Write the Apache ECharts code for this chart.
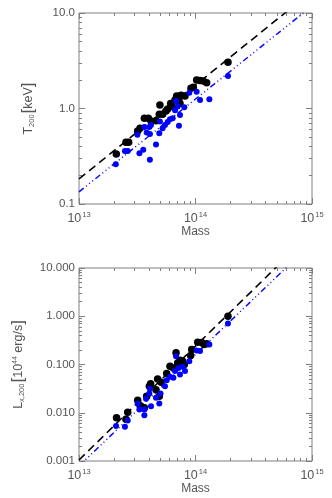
<!DOCTYPE html>
<html><head><meta charset="utf-8">
<script src="https://cdn.jsdelivr.net/npm/echarts@6/dist/echarts.min.js"></script>
<style>html,body{margin:0;padding:0;background:#fff}#c{width:332px;height:498px}</style>
</head><body><div id="c"></div>
<script>
// ---- data ----
const tBlackMass = [2.09e13,2.53e13,2.67e13,3.19e13,3.34e13,3.64e13,3.94e13,4.15e13,4.58e13,4.89e13,4.95e13,5.22e13,5.58e13,5.77e13,6.12e13,6.32e13,6.67e13,6.89e13,7.21e13,7.52e13,8.13e13,7.36e13,9.14e13,9.57e13,1.023e14,1.094e14,1.167e14,1.247e14,1.90e14];
const tBlackT = [0.334,0.442,0.442,0.58,0.62,0.79,0.79,0.74,0.745,0.87,1.09,0.87,0.94,0.99,1.13,1.05,1.23,1.35,1.26,1.38,1.35,1.13,1.63,1.67,1.99,1.96,1.94,1.86,3.05];
const tBlueMass = [2.07e13,2.48e13,2.62e13,3.17e13,3.30e13,3.56e13,3.64e13,3.81e13,4.02e13,4.06e13,4.06e13,4.15e13,4.58e13,4.89e13,4.95e13,5.22e13,5.47e13,5.77e13,6.04e13,6.37e13,6.67e13,6.81e13,7.03e13,7.21e13,7.36e13,8.02e13,8.85e13,1.023e14,1.094e14,1.315e14,1.90e14];
const tBlueT = [0.26,0.359,0.359,0.53,0.34,0.37,0.64,0.56,0.64,0.54,0.29,0.67,0.42,0.55,0.73,0.62,0.67,0.72,0.77,0.79,0.96,1.2,1.05,0.66,0.855,1.03,1.46,1.50,1.23,1.25,2.19];
const lBlackMass = [2.10e13,2.53e13,2.62e13,3.19e13,3.34e13,3.64e13,3.81e13,4.02e13,4.12e13,4.58e13,4.73e13,4.89e13,5.06e13,5.66e13,6.04e13,6.46e13,6.81e13,7.03e13,7.36e13,7.76e13,8.02e13,9.27e13,9.08e13,1.045e14,1.130e14,1.183e14,1.247e14,1.90e14];
const lBlackL = [0.0079,0.0073,0.0103,0.0182,0.0142,0.0127,0.022,0.0356,0.040,0.030,0.050,0.022,0.043,0.065,0.092,0.085,0.175,0.108,0.123,0.117,0.100,0.205,0.153,0.290,0.285,0.26,0.27,1.0];
const lBlueMass = [2.08e13,2.48e13,2.62e13,3.19e13,3.30e13,3.64e13,3.64e13,3.76e13,4.02e13,4.06e13,4.15e13,4.58e13,4.89e13,5.01e13,5.47e13,5.66e13,6.04e13,6.46e13,6.67e13,6.81e13,7.13e13,7.36e13,7.76e13,8.13e13,8.85e13,1.023e14,1.094e14,1.315e14,1.90e14];
const lBlueL = [0.0053,0.0051,0.0069,0.0156,0.0117,0.0089,0.0117,0.0195,0.025,0.0314,0.0137,0.0204,0.0156,0.025,0.0356,0.047,0.056,0.053,0.073,0.149,0.085,0.062,0.090,0.073,0.117,0.195,0.19,0.26,0.71];
const fitMass = [1e13, 1e15];
const tFitBlack = [0.183, 16.9];
const tFitBlue = [0.134, 11.8];
const lFitBlack = [0.00105, 55];
const lFitBlue = [0.00079, 33];
const xTickExp = ['13','14','15'];
const tTickLabels = ['0.1','1.0','10.0'];
const lTickLabels = ['0.001','0.010','0.100','1.000','10.000'];
const minorFactors = [2,3,4,5,6,7,8,9];

// ---- helpers ----
const TXT = '#555', AX = '#808080', FONT = 'Liberation Sans';
function minors(lo, hi){ const out=[]; for(let e=lo;e<hi;e++) for(const f of minorFactors) out.push(f*Math.pow(10,e)); return out; }
// tiny inward nudge so the end values survive the axis extent filter
function majors(lo, hi){ const out=[]; for(let e=lo;e<=hi;e++){ let v=Math.pow(10,e); if(e===hi) v*=0.999999; if(e===lo) v*=1.000001; out.push(v);} return out; }
function pairs(a,b){ return a.map((v,i)=>[v,b[i]]); }

function xAxes(g, name, gap){
  const base = {type:'log', logBase:10, min:1e13, max:1e15, gridIndex:g, axisLine:{show:false}, splitLine:{show:false}};
  const maj = majors(13,15), mnr = minors(13,15);
  return [
    Object.assign({}, base, {position:'bottom', name:name, nameLocation:'middle', nameGap:gap,
      nameTextStyle:{color:TXT, fontSize:12, fontFamily:FONT},
      axisTick:{show:true, inside:true, length:6, lineStyle:{color:AX}, customValues:maj},
      axisLabel:{show:true, margin:7, showMinLabel:true, showMaxLabel:true, hideOverlap:false, customValues:maj, color:TXT, fontFamily:FONT,
        formatter:(v)=>{ const i=Math.round(Math.log10(v))-13; return '{m|10}{s|'+xTickExp[i]+'}'; },
        rich:{m:{fontSize:12.5, color:TXT, fontFamily:FONT, verticalAlign:'bottom'}, s:{fontSize:7.5, color:TXT, fontFamily:FONT, verticalAlign:'top', padding:[0,0,6,1]}}}}),
    Object.assign({}, base, {position:'bottom', axisTick:{show:true, inside:true, length:3, lineStyle:{color:AX}, customValues:mnr}, axisLabel:{show:false}}),
    Object.assign({}, base, {position:'top', axisTick:{show:true, inside:true, length:6, lineStyle:{color:AX}, customValues:maj}, axisLabel:{show:false}}),
    Object.assign({}, base, {position:'top', axisTick:{show:true, inside:true, length:3, lineStyle:{color:AX}, customValues:mnr}, axisLabel:{show:false}})
  ];
}
function yAxes(g, lo, hi, labels, name, gap, rich, fs){
  const base = {type:'log', logBase:10, min:Math.pow(10,lo), max:Math.pow(10,hi), gridIndex:g, axisLine:{show:false}, splitLine:{show:false}};
  const maj = majors(lo,hi), mnr = minors(lo,hi);
  return [
    Object.assign({}, base, {position:'left', name:name, nameLocation:'middle', nameGap:gap, nameRotate:90,
      nameTextStyle:{color:TXT, fontFamily:FONT, rich:rich},
      axisTick:{show:true, inside:true, length:6, lineStyle:{color:AX}, customValues:maj},
      axisLabel:{show:true, margin:4, showMinLabel:true, showMaxLabel:true, customValues:maj, color:TXT, fontSize:fs, fontFamily:FONT,
        formatter:(v)=>labels[Math.round(Math.log10(v))-lo]}}),
    Object.assign({}, base, {position:'left', axisTick:{show:true, inside:true, length:3, lineStyle:{color:AX}, customValues:mnr}, axisLabel:{show:false}}),
    Object.assign({}, base, {position:'right', axisTick:{show:true, inside:true, length:6, lineStyle:{color:AX}, customValues:maj}, axisLabel:{show:false}}),
    Object.assign({}, base, {position:'right', axisTick:{show:true, inside:true, length:3, lineStyle:{color:AX}, customValues:mnr}, axisLabel:{show:false}})
  ];
}
const richT = {m:{fontSize:12.5,color:TXT,fontFamily:FONT}, s:{fontSize:7.5,color:TXT,fontFamily:FONT,padding:[6,1,0,0]}, b:{fontSize:17,color:TXT,fontFamily:FONT}};
const richL = {m:{fontSize:12.5,color:TXT,fontFamily:FONT}, s:{fontSize:7.5,color:TXT,fontFamily:FONT,padding:[6,1,0,0]}, p:{fontSize:7,color:TXT,fontFamily:FONT,padding:[0,0,7,0]}, b:{fontSize:17,color:TXT,fontFamily:FONT}};

const chart = echarts.init(document.getElementById('c'), null, {renderer:'canvas'});
const dashBlack = {color:'#000', width:1.6, type:[8,5]};
const dashBlue = {color:'#0a0aff', width:1.5, type:[6,3,1,3,1,3,1,3]};
chart.setOption({
  animation:false,
  backgroundColor:'#fff',
  grid:[
    {left:79, top:13, width:233, height:191, show:true, borderColor:AX, borderWidth:1, backgroundColor:'transparent'},
    {left:79, top:268, width:233, height:193, show:true, borderColor:AX, borderWidth:1, backgroundColor:'transparent'}
  ],
  xAxis: xAxes(0,'Mass',20).concat(xAxes(1,'Mass',21)),
  yAxis: yAxes(0,-1,1,tTickLabels,'{m|T}{s|200}{b|[}{m|keV}{b|]}',42,richT,11.5)
    .concat(yAxes(1,-3,1,lTickLabels,'{m|L}{s|x,200}{b|[}{m|10}{p|44}{m| erg/s}{b|]}',52,richL,11.5)),
  series:[
    {type:'line', xAxisIndex:0, yAxisIndex:0, data:pairs(fitMass,tFitBlack), symbol:'none', lineStyle:dashBlack, clip:true, z:2},
    {type:'line', xAxisIndex:0, yAxisIndex:0, data:pairs(fitMass,tFitBlue), symbol:'none', lineStyle:dashBlue, clip:true, z:2},
    {type:'scatter', xAxisIndex:0, yAxisIndex:0, data:pairs(tBlackMass,tBlackT), symbol:'circle', symbolSize:7.5, itemStyle:{color:'#000', opacity:1}, z:3},
    {type:'scatter', xAxisIndex:0, yAxisIndex:0, data:pairs(tBlueMass,tBlueT), symbol:'circle', symbolSize:6, itemStyle:{color:'#0000ff', opacity:1}, z:4},
    {type:'line', xAxisIndex:4, yAxisIndex:4, data:pairs(fitMass,lFitBlack), symbol:'none', lineStyle:dashBlack, clip:true, z:2},
    {type:'line', xAxisIndex:4, yAxisIndex:4, data:pairs(fitMass,lFitBlue), symbol:'none', lineStyle:dashBlue, clip:true, z:2},
    {type:'scatter', xAxisIndex:4, yAxisIndex:4, data:pairs(lBlackMass,lBlackL), symbol:'circle', symbolSize:7.5, itemStyle:{color:'#000', opacity:1}, z:3},
    {type:'scatter', xAxisIndex:4, yAxisIndex:4, data:pairs(lBlueMass,lBlueL), symbol:'circle', symbolSize:6, itemStyle:{color:'#0000ff', opacity:1}, z:4}
  ]
});
</script></body></html>
